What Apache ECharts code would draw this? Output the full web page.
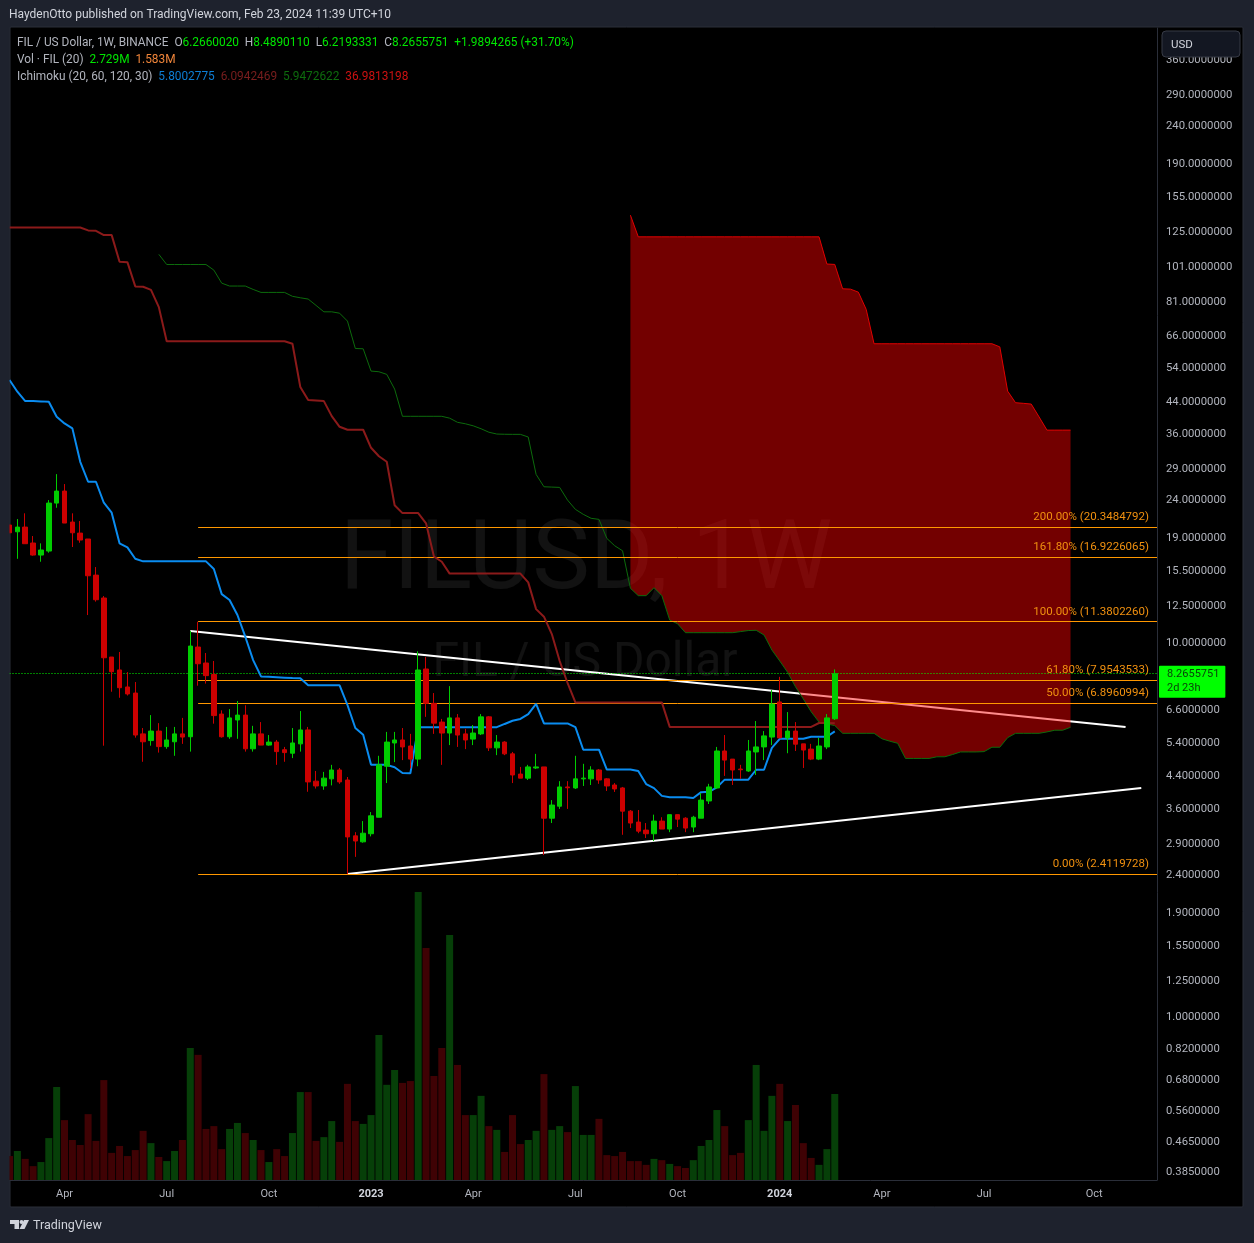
<!DOCTYPE html>
<html>
<head>
<meta charset="utf-8">
<title>FILUSD 1W</title>
<script src="https://cdn.jsdelivr.net/npm/echarts@6/dist/echarts.min.js"></script>
<style>
  html,body{margin:0;padding:0;background:#1e222d;}
  #container{width:1254px;height:1243px;}
</style>
</head>
<body>
<div id="container"></div>
<script>
var opens = [
  20.63,19.79,20.37,18.47,17.15,17.58,23.61,25.42,21.01,19.63,
  18.93,15.16,13.17,9.16,8.46,7.62,7.34,5.71,5.48,5.81,
  5.28,5.44,5.71,5.61,9.74,8.83,8.23,6.45,5.61,6.22,
  6.41,5.21,5.71,5.33,5.43,5.18,5.07,5.37,5.85,4.27,
  4.145,4.33,4.573,4.30,3.05,2.94,3.09,3.42,4.68,5.40,
  5.50,5.30,4.89,8.51,6.89,6.14,5.74,6.30,5.71,5.53,
  5.71,6.34,5.24,5.43,5.05,4.46,4.35,4.63,4.66,3.40,
  3.66,4.12,4.095,4.33,4.33,4.573,4.33,4.17,4.095,3.55,
  3.32,3.16,3.09,3.34,3.18,3.475,3.40,3.22,3.40,3.78,
  4.095,5.14,4.89,4.60,4.545,5.11,5.27,5.60,6.95,5.57,
  5.81,5.37,5.20,4.89,5.27,6.266002
];
var closes = [
  19.67,20.37,18.39,17.15,17.69,23.61,25.42,20.88,19.67,18.81,
  15.10,13.03,9.12,8.37,7.585,7.30,5.67,5.44,5.81,5.28,
  5.50,5.71,5.60,9.80,8.79,8.17,6.39,5.61,6.30,6.41,
  5.21,5.71,5.33,5.43,5.12,5.09,5.40,5.85,4.25,4.145,
  4.35,4.573,4.25,3.03,2.955,3.10,3.45,4.72,5.43,5.50,
  5.27,4.89,8.458,6.89,6.10,5.74,6.30,5.67,5.50,5.74,
  6.34,5.24,5.43,5.05,4.435,4.35,4.66,4.66,3.40,3.686,
  4.12,4.10,4.33,4.35,4.573,4.30,4.145,4.07,3.55,3.30,
  3.14,3.09,3.34,3.18,3.475,3.38,3.20,3.42,3.80,4.12,
  5.14,4.86,4.573,4.58,5.14,5.27,5.64,6.86,5.57,5.81,
  5.36,5.17,4.89,5.30,6.30,8.2655751
];
var lows = [
  19.67,16.76,18.39,17.08,16.46,17.40,22.94,20.88,18.02,18.50,
  11.86,12.88,5.31,7.40,7.13,7.23,5.58,4.81,5.31,5.09,
  5.21,4.99,5.37,5.12,7.68,7.78,6.08,5.58,5.54,5.54,
  5.12,5.12,5.33,5.31,4.72,4.81,4.92,5.12,4.00,4.08,
  4.05,4.16,4.20,2.41,2.68,2.925,3.04,3.42,4.22,4.80,
  4.86,4.62,4.68,6.34,5.71,4.72,5.33,5.27,5.20,5.33,
  5.67,5.14,5.01,5.01,4.22,4.35,4.30,4.60,2.71,3.30,
  3.60,3.60,4.07,4.145,4.17,4.20,4.02,3.995,3.07,3.20,
  3.10,3.01,2.955,3.18,3.12,3.22,3.12,3.12,3.40,3.71,
  4.07,4.41,4.17,4.33,4.52,4.435,4.86,5.33,5.57,5.07,
  5.14,4.63,4.86,4.86,5.20,6.2193331
];
var highs = [
  20.63,21.40,22.17,19.28,18.43,24.05,28.21,26.54,22.17,21.14,
  18.93,15.93,13.33,9.16,9.45,8.35,7.855,5.92,6.41,6.10,
  5.96,5.96,6.30,10.75,11.38,9.39,8.94,6.60,6.65,6.99,
  6.81,6.00,6.14,5.67,5.50,5.27,5.92,6.57,5.96,4.545,
  4.52,4.72,4.63,4.38,3.12,3.34,3.53,4.99,5.78,5.78,
  5.92,5.71,9.49,9.16,7.34,6.26,7.66,6.45,5.89,6.03,
  6.45,6.37,5.67,5.46,5.11,4.66,4.72,5.05,4.66,3.80,
  4.27,4.27,4.99,4.75,4.68,4.60,4.35,4.22,4.12,3.575,
  3.575,3.30,3.475,3.42,3.475,3.475,3.42,3.45,3.97,4.20,
  5.27,5.67,4.89,4.72,5.50,6.18,5.81,7.48,8.11,6.53,
  6.14,5.37,5.37,5.57,6.45,8.489011
];
// volume in millions
var volumes = [
  0.76,0.92,0.67,0.44,0.57,1.33,2.95,1.90,1.27,1.11,
  2.09,1.24,3.17,0.86,1.08,0.76,0.95,1.56,1.17,0.73,
  0.60,0.92,1.27,4.19,3.97,1.62,1.71,0.98,1.62,1.81,
  1.49,1.27,0.95,0.57,0.98,0.76,1.49,2.79,2.79,1.24,
  1.36,1.87,1.21,3.05,1.87,1.78,2.06,4.60,3.02,3.49,
  3.08,3.14,9.14,7.36,3.30,4.19,7.77,3.65,2.06,2.06,
  2.67,1.71,1.59,0.89,2.06,1.14,1.27,1.56,3.36,1.59,
  1.71,1.52,2.98,1.43,1.43,1.94,0.79,0.76,0.89,0.60,
  0.60,0.48,0.67,0.63,0.51,0.44,0.38,0.63,1.08,1.27,
  2.22,1.71,0.79,0.86,1.90,3.65,1.56,2.67,3.05,1.87,
  2.38,1.17,0.70,0.48,0.98,2.729
];
// ichimoku
var conversionLine = [
  50.31,46.83,44.22,44.22,44.13,44.02,40.15,38.54,37.38,30.44,
  26.92,26.92,23.66,22.26,18.43,17.98,16.76,16.5,16.5,16.5,
  16.5,16.5,16.5,16.5,16.5,16.5,15.74,13.49,13.01,11.86,
  10.38,8.99,8.13,8.11,8.09,8.07,8.05,8.04,7.70,7.70,
  7.70,7.70,7.70,6.82,5.92,5.68,4.72,4.72,4.72,4.65,
  4.49,4.48,5.95,5.95,5.95,5.95,5.95,5.95,5.95,5.95,
  5.95,5.95,5.95,6.07,6.19,6.26,6.45,6.87,6.09,6.09,
  6.09,6.09,5.95,5.18,5.18,5.18,4.585,4.585,4.585,4.585,
  4.545,4.195,4.09,3.90,3.87,3.87,3.87,3.85,3.99,4.00,
  4.11,4.31,4.31,4.31,4.31,4.58,4.58,5.24,5.54,5.54,
  5.54,5.54,5.61,5.61,5.61,5.8002775
];
var baseLine = [
  128.6,128.6,128.6,128.6,128.6,128.6,128.6,128.6,128.6,128.6,
  126.3,126.0,122.7,122.7,104.1,103.9,89.5,89.3,87.6,78.8,
  63.9,63.9,63.9,63.9,63.9,63.9,63.9,63.9,63.9,63.9,
  63.9,63.9,63.9,63.9,63.9,63.9,62.9,48.2,44.49,44.4,
  44.2,40.3,37.74,37.06,37.06,37.06,33.17,31.5,30.45,23.3,
  22.2,22.2,22.2,20.85,17.0,16.46,15.3,15.3,15.3,15.3,
  15.3,15.3,15.3,15.3,15.3,15.3,14.5,12.3,11.74,10.55,
  8.94,7.81,6.93,6.93,6.93,6.93,6.93,6.93,6.93,6.93,
  6.93,6.93,6.93,6.93,5.96,5.96,5.96,5.96,5.96,5.96,
  5.96,5.96,5.96,5.96,5.96,5.96,5.96,5.96,5.96,5.96,
  5.96,5.96,5.96,6.105,6.105,6.0942469
];
var spanAStart = 19;
var spanAValues = [
  109.0,
  102.4,102.4,102.4,102.4,102.4,102.4,98.93,91.3,89.7,89.7,
  89.7,87.85,86.25,86.25,86.25,86.25,84.2,83.45,82.8,79.64,
  76.55,76.55,75.9,72.3,61.1,60.98,53.17,52.95,52.1,47.6,
  40.26,40.26,40.26,40.26,40.26,40.26,39.8,38.8,38.45,37.97,
  37.29,36.5,36.1,36.05,36.03,36.03,35.45,28.17,26.1,26.05,
  26.0,24.05,22.72,22.03,21.5,21.36,19.0,18.16,17.61,13.98,
  13.36,13.36,14.03,13.36,11.5,11.24,10.64,10.64,10.64,10.64,
  10.64,10.64,10.64,10.71,10.78,10.8,10.49,9.565,8.94,8.34,
  7.63,7.08,6.54,6.14,6.07,6.01,5.73,5.73,5.73,5.73,
  5.73,5.54,5.46,5.39,4.91,4.91,4.91,4.91,4.96,4.96,
  5.03,5.11,5.11,5.11,5.12,5.26,5.26,5.58,5.73,5.73,
  5.73,5.73,5.78,5.84,5.84,5.9472622
];
var spanBStart = 79;
var spanBValues = [
  138.7,
  121.4,121.4,121.4,121.4,121.4,121.4,121.4,121.4,121.4,121.4,
  121.4,121.4,121.4,121.4,121.4,121.4,121.4,121.4,121.4,121.4,
  121.4,121.4,121.4,121.4,102.7,102.45,88.2,88.0,86.4,77.7,
  62.9,62.9,62.9,62.9,62.9,62.9,62.9,62.9,62.9,62.9,
  62.9,62.9,62.9,62.9,62.9,62.9,61.7,47.0,43.77,43.6,
  43.4,40.1,36.98,36.98,36.98,36.9813198
];
var fibPercents = ['0.00%','50.00%','61.80%','100.00%','161.80%','200.00%'];
var fibValues = [2.4119728,6.8960994,7.9543533,11.3802260,16.9226065,20.3484792];
var lastPrice = 8.2655751;
var priceTicks = [360,290,240,190,155,125,101,81,66,54,44,36,29,24,19,15.5,12.5,10,8.2,6.6,5.4,4.4,3.6,2.9,2.4,1.9,1.55,1.25,1,0.82,0.68,0.56,0.465,0.385];
var timeTickIndex = [7,20,33,46,59,72,85,98,111,124,138];
var timeTickLabels = ['Apr','Jul','Oct','2023','Apr','Jul','Oct','2024','Apr','Jul','Oct'];

var weeks = [];
for (var w = 0; w <= 146; w++) {
  weeks.push(new Date(Date.UTC(2022, 1, 14 + w * 7)).toISOString().slice(0, 10));
}

function pad(start, values) {
  var out = [];
  for (var i = 0; i < start; i++) out.push(null);
  return out.concat(values);
}

var spanA = pad(spanAStart, spanAValues);
var spanB = pad(spanBStart, spanBValues);

var UP = '#00cc00', DOWN = '#cc0000';
var FONT = 'Roboto';

var candles = opens.map(function (o, i) { return [o, closes[i], lows[i], highs[i]]; });
var volumeBars = volumes.map(function (v, i) {
  return {value: v, itemStyle: {color: closes[i] >= opens[i] ? '#063f08' : '#3f0204'}};
});

function renderCloud(params, api) {
  var pts = [];
  for (var i = spanBStart; i < spanB.length; i++) pts.push(api.coord([i, spanB[i]]));
  for (var j = spanA.length - 1; j >= spanBStart; j--) pts.push(api.coord([j, spanA[j]]));
  return {type: 'polygon', shape: {points: pts}, style: {fill: 'rgba(255,0,0,0.45)'}};
}

function lineSeries(name, data, color, width, z) {
  return {
    name: name, type: 'line', data: data, showSymbol: false, symbol: 'none', silent: true,
    lineStyle: {color: color, width: width}, z: z, animation: false
  };
}

var fibLines = fibValues.map(function (v, i) {
  return [
    {coord: [weeks[24], v], label: {formatter: fibPercents[i] + ' (' + v.toFixed(7) + ')'}},
    {coord: [weeks[146], v]}
  ];
});

var seg = function (c) { return {fill: c, fontSize: 12, fontFamily: FONT, lineHeight: 14}; };

var option = {
  backgroundColor: '#1e222d',
  animation: false,
  grid: {left: 9.5, right: 97, top: 28, bottom: 63, containLabel: false},
  xAxis: {
    type: 'category', data: weeks, boundaryGap: false,
    axisLine: {lineStyle: {color: '#2a2e39'}},
    axisTick: {show: false},
    splitLine: {show: false},
    axisLabel: {
      color: '#b2b5be', fontFamily: FONT, fontSize: 11, margin: 9, hideOverlap: false,
      interval: function (index) { return timeTickIndex.indexOf(index) >= 0; },
      formatter: function (value, index) {
        var k = timeTickIndex.indexOf(index);
        if (k < 0) return '';
        var t = timeTickLabels[k];
        return t.length === 4 ? '{y|' + t + '}' : t;
      },
      rich: {y: {color: '#d1d4dc', fontWeight: 'bold', fontFamily: FONT, fontSize: 11}}
    }
  },
  yAxis: [{
    type: 'log', position: 'right', min: 0.3674, max: 438.5,
    axisLine: {show: true, lineStyle: {color: '#2a2e39'}},
    axisTick: {show: false},
    splitLine: {show: false},
    minorTick: {show: false},
    axisLabel: {
      color: '#b2b5be', fontFamily: FONT, fontSize: 11.3, margin: 9, padding: [3, 0, 0, 0],
      customValues: priceTicks,
      formatter: function (v) { return Number(v).toFixed(7); }
    }
  }, {
    type: 'value', min: 0, max: 36.55, show: false, splitLine: {show: false}
  }],
  series: [
    {name: 'Vol', type: 'bar', yAxisIndex: 1, data: volumeBars, barWidth: 7, z: 1, silent: true},
    lineSeries('Upper trend', [[weeks[23], 10.75], [weeks[142], 5.96]], '#ffffff', 2, 2),
    lineSeries('Lower trend', [[weeks[43], 2.412], [weeks[144], 4.093]], '#ffffff', 2, 2),
    {
      name: 'Cloud', type: 'custom', renderItem: renderCloud, silent: true, z: 3,
      data: [[spanBStart, spanB[spanBStart]]], encode: {x: 0, y: 1}
    },
    lineSeries('Span A', spanA, '#0c6b0c', 1, 4),
    lineSeries('Span B', spanB, '#e00000', 1, 4),
    lineSeries('Base', baseLine, '#8b1a1a', 2, 5),
    lineSeries('Conversion', conversionLine, '#0a8cf0', 2, 5),
    {
      name: 'FILUSD', type: 'candlestick', data: candles, barWidth: 5, z: 6, silent: true,
      itemStyle: {color: UP, color0: DOWN, borderColor: UP, borderColor0: DOWN, borderWidth: 1}
    },
    {
      name: 'Fib', type: 'line', data: [], z: 7, silent: true,
      markLine: {
        silent: true, symbol: 'none', animation: false,
        lineStyle: {color: '#ff9800', width: 1, type: 'solid'},
        label: {position: 'insideEndTop', distance: [8, 4], color: '#f0900f', fontFamily: FONT, fontSize: 11.5},
        data: fibLines
      }
    },
    {
      name: 'Last', type: 'line', data: [], z: 7, silent: true,
      markLine: {
        silent: true, symbol: 'none', animation: false,
        lineStyle: {color: '#00ff00', width: 1, type: [1, 2]},
        label: {
          position: 'end', distance: 0, offset: [2, 8], color: '#0a3d0a', backgroundColor: '#00ff00',
          fontFamily: FONT, fontSize: 11, lineHeight: 14, padding: [2, 6, 2, 8], borderRadius: 1, align: 'left',
          formatter: lastPrice.toFixed(7) + '\n2d 23h'
        },
        data: [[{coord: [weeks[0], lastPrice]}, {coord: [weeks[146], lastPrice]}]]
      }
    }
  ],
  graphic: [
    {type: 'rect', z: -10, shape: {x: 10, y: 27, width: 1233, height: 1180, r: 1}, style: {fill: '#000000', stroke: '#2a2e39', lineWidth: 1}},
    {type: 'rect', z: 15, shape: {x: 0, y: 28, width: 9.5, height: 1178}, style: {fill: '#1e222d'}},
    {type: 'text', z: -9, x: 586, y: 564, style: {text: 'FILUSD, 1W', fontFamily: FONT, fontSize: 97, fill: 'rgba(255,255,255,0.07)', align: 'center', verticalAlign: 'middle'}},
    {type: 'text', z: -9, x: 585, y: 664, style: {text: 'FIL / US Dollar', fontFamily: FONT, fontSize: 48, fill: 'rgba(255,255,255,0.07)', align: 'center', verticalAlign: 'middle'}},
    {type: 'text', z: 20, x: 9, y: 9, style: {text: 'HaydenOtto published on TradingView.com, Feb 23, 2024 11:39 UTC+10', fontFamily: FONT, fontSize: 12, fill: '#d1d4dc'}},
    {type: 'text', z: 20, x: 17, y: 36, scaleX: 0.988, style: {
      text: '{g|FIL / US Dollar, 1W, BINANCE  O}{v|6.2660020}{g|  H}{v|8.4890110}{g|  L}{v|6.2193331}{g|  C}{v|8.2655751}{v|  +1.9894265 (+31.70%)}',
      rich: {g: seg('#b2b5be'), v: seg('#00e600')}
    }},
    {type: 'text', z: 20, x: 17, y: 53, scaleX: 0.988, style: {
      text: '{g|Vol · FIL (20)  }{v|2.729M}{o|  1.583M}',
      rich: {g: seg('#b2b5be'), v: seg('#00e600'), o: seg('#f0853a')}
    }},
    {type: 'text', z: 20, x: 17, y: 70, scaleX: 0.988, style: {
      text: '{g|Ichimoku (20, 60, 120, 30)  }{b|5.8002775}{r|  6.0942469}{a|  5.9472622}{c|  36.9813198}',
      rich: {g: seg('#b2b5be'), b: seg('#0d7fd6'), r: seg('#7a1e1e'), a: seg('#0d6b0d'), c: seg('#cc1111')}
    }},
    {type: 'rect', z: 20, shape: {x: 1162, y: 31, width: 78, height: 26, r: 4}, style: {fill: '#131722', stroke: '#363a45', lineWidth: 1}},
    {type: 'text', z: 21, x: 1171, y: 39, style: {text: 'USD', fontFamily: FONT, fontSize: 11.5, fill: '#d1d4dc'}},
    // TradingView mark
    {type: 'polygon', z: 20, shape: {points: [[10,1220],[19,1220],[19,1229],[14.5,1229],[14.5,1224],[10,1224]]}, style: {fill: '#d1d4dc'}},
    {type: 'circle', z: 20, shape: {cx: 21.5, cy: 1222, r: 2}, style: {fill: '#d1d4dc'}},
    {type: 'polygon', z: 20, shape: {points: [[24,1220],[29,1220],[24.5,1229],[19.5,1229]]}, style: {fill: '#d1d4dc'}},
    {type: 'text', z: 20, x: 33, y: 1219, style: {text: 'TradingView', fontFamily: FONT, fontSize: 12.5, fill: '#d1d4dc'}}
  ]
};

var myChart = echarts.init(document.getElementById('container'));
myChart.setOption(option);
</script>
</body>
</html>
